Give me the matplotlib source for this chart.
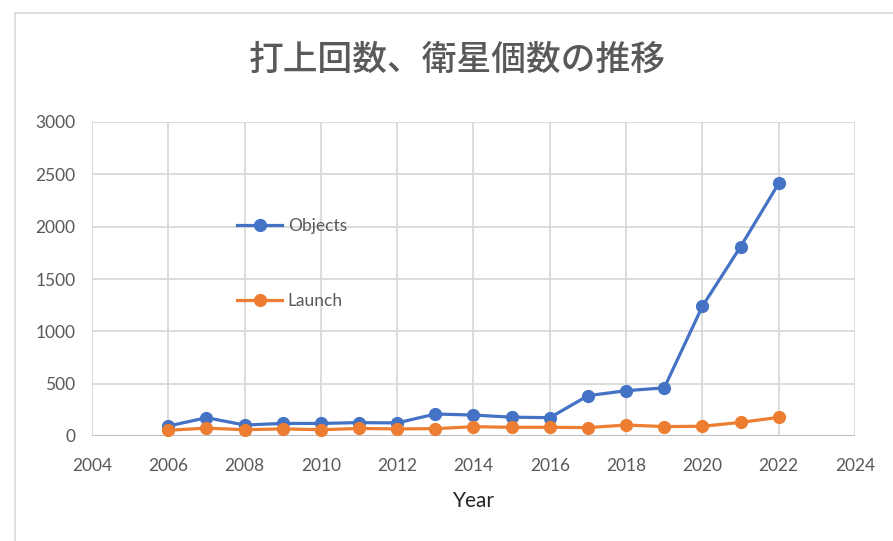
import matplotlib
matplotlib.use('Agg')
from matplotlib import pyplot as plt
from matplotlib.lines import Line2D

plt.rcParams['font.family'] = ['Lato', 'Noto Sans CJK JP', 'DejaVu Sans']

years = [2006, 2007, 2008, 2009, 2010, 2011, 2012, 2013, 2014,
         2015, 2016, 2017, 2018, 2019, 2020, 2021, 2022]
objects = [95, 175, 105, 120, 120, 128, 125, 210, 200,
           180, 175, 385, 433, 460, 1240, 1808, 2413]
launch = [55, 75, 60, 68, 60, 72, 68, 70, 89,
          83, 83, 80, 105, 90, 93, 130, 178]

title = '打上回数、衛星個数の推移'
gray = '#595959'

fig = plt.figure(figsize=(8.93, 5.41), dpi=100)
ax = fig.add_axes([92 / 893, 1 - 436 / 541, (855 - 92) / 893, (436 - 122) / 541])

ax.plot(years, objects, color='#4472C4', lw=2.3, marker='o', ms=8.5, label='Objects', zorder=3)
ax.plot(years, launch, color='#ED7D31', lw=2.3, marker='o', ms=8.5, label='Launch', zorder=4)

ax.set_xlim(2004, 2024)
ax.set_ylim(0, 3000)
ax.set_xticks(range(2004, 2025, 2))
ax.set_yticks(range(0, 3001, 500))
ax.grid(True, color='#d9d9d9', lw=1.3)
ax.set_axisbelow(True)
for s in ax.spines.values():
    s.set_visible(False)
ax.axhline(0, color='#bfbfbf', lw=1.5, zorder=2)
ax.tick_params(length=0, labelsize=12.5, labelcolor=gray)
ax.tick_params(axis='y', pad=12)
ax.tick_params(axis='x', pad=16)
ax.set_xlabel('Year', fontsize=15, color='#262626', labelpad=12)

leg = ax.legend(loc='upper left', bbox_to_anchor=(0.17, 0.745), frameon=False,
                fontsize=12.5, labelspacing=3.4, handlelength=2.6, handletextpad=0.3,
                labelcolor=gray)

fig.text(457 / 893, 1 - 60 / 541, title, ha='center', va='center', fontsize=25,
         color=gray, fontweight='medium', family=['Noto Sans CJK JP', 'DejaVu Sans'])

# chart border
fig.add_artist(Line2D([15 / 893, 15 / 893], [0, 1 - 13 / 541], color='#d9d9d9', lw=1.2, transform=fig.transFigure))
fig.add_artist(Line2D([15 / 893, 1], [1 - 13 / 541, 1 - 13 / 541], color='#d9d9d9', lw=1.2, transform=fig.transFigure))

fig.savefig('out.png', dpi=100)
